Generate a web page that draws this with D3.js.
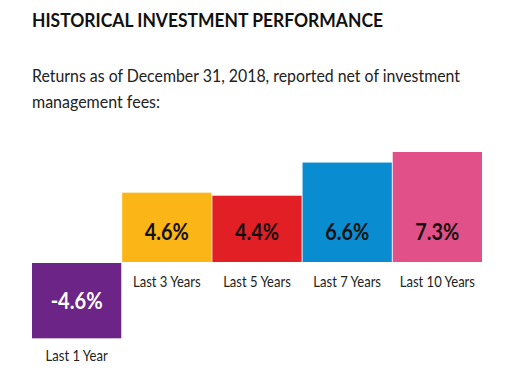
<!DOCTYPE html>
<html><head><meta charset="utf-8">
<script src="https://cdn.jsdelivr.net/npm/d3@7"></script>
<style>body{margin:0;background:#fff}svg{display:block}</style>
</head><body>
<script>
const title = "HISTORICAL INVESTMENT PERFORMANCE";
const subtitleLines = ["Returns as of December 31, 2018, reported net of investment", "management fees:"];
const categories = ["Last 1 Year", "Last 3 Years", "Last 5 Years", "Last 7 Years", "Last 10 Years"];
const values = [-4.6, 4.6, 4.4, 6.6, 7.3];
const colors = ["#6c2586", "#fbb516", "#e31f26", "#0a8dd0", "#e2508a"];
const labelColors = ["#ffffff", "#111111", "#111111", "#111111", "#111111"];

const W = 517, H = 372;
const svg = d3.select("body").append("svg").attr("width", W).attr("height", H);
const font = "Lato, 'Open Sans', sans-serif";

svg.append("text").attr("x", 32).attr("y", 27)
  .attr("font-family", font).attr("font-weight", 700).attr("font-size", 19.5)
  .attr("textLength", 351).attr("lengthAdjust", "spacingAndGlyphs")
  .attr("fill", "#111").text(title);

const subLens = [428, 128];
svg.append("g").selectAll("text").data(subtitleLines).join("text")
  .attr("x", 32).attr("y", (d, i) => 82 + i * 26)
  .attr("textLength", (d, i) => subLens[i]).attr("lengthAdjust", "spacingAndGlyphs")
  .attr("font-family", font).attr("font-size", 17.5).attr("fill", "#222").text(d => d);

const x = d3.scaleBand().domain(categories).range([32, 482]).paddingInner(0.01);
const y = d3.scaleLinear().domain([0, 7.3]).range([262, 152]);
const negExtra = 6;

const bars = svg.append("g");
bars.selectAll("rect").data(values).join("rect")
  .attr("x", (d, i) => x(categories[i]))
  .attr("width", x.bandwidth())
  .attr("y", d => d >= 0 ? y(d) : y(0) + 1)
  .attr("height", d => Math.abs(y(d) - y(0)) + (d < 0 ? negExtra : 0))
  .attr("fill", (d, i) => colors[i]);

bars.selectAll("text.val").data(values).join("text").attr("class", "val")
  .attr("x", (d, i) => x(categories[i]) + x.bandwidth() / 2)
  .attr("y", d => d >= 0 ? y(0) - 22 : y(0) + 1 + (Math.abs(y(d) - y(0)) + negExtra) / 2 + 8)
  .attr("text-anchor", "middle")
  .attr("font-family", font).attr("font-weight", 700).attr("font-size", 22.5)
  .attr("fill", (d, i) => labelColors[i])
  .each(function(d){ d3.select(this).attr("textLength", d < 0 ? 52 : 44).attr("lengthAdjust", "spacingAndGlyphs"); })
  .text(d => d.toFixed(1) + "%");

bars.selectAll("text.cat").data(values).join("text").attr("class", "cat")
  .attr("x", (d, i) => x(categories[i]) + x.bandwidth() / 2)
  .attr("y", d => d >= 0 ? y(0) + 25 : y(d) + 1 + negExtra + 23)
  .attr("text-anchor", "middle")
  .attr("font-family", font).attr("font-size", 14.5).attr("fill", "#222")
  .attr("transform", (d, i) => { const cx = x(categories[i]) + x.bandwidth() / 2; return `translate(${cx},0) scale(0.9,1) translate(${-cx},0)`; })
  .text((d, i) => categories[i]);
</script>
</body></html>
